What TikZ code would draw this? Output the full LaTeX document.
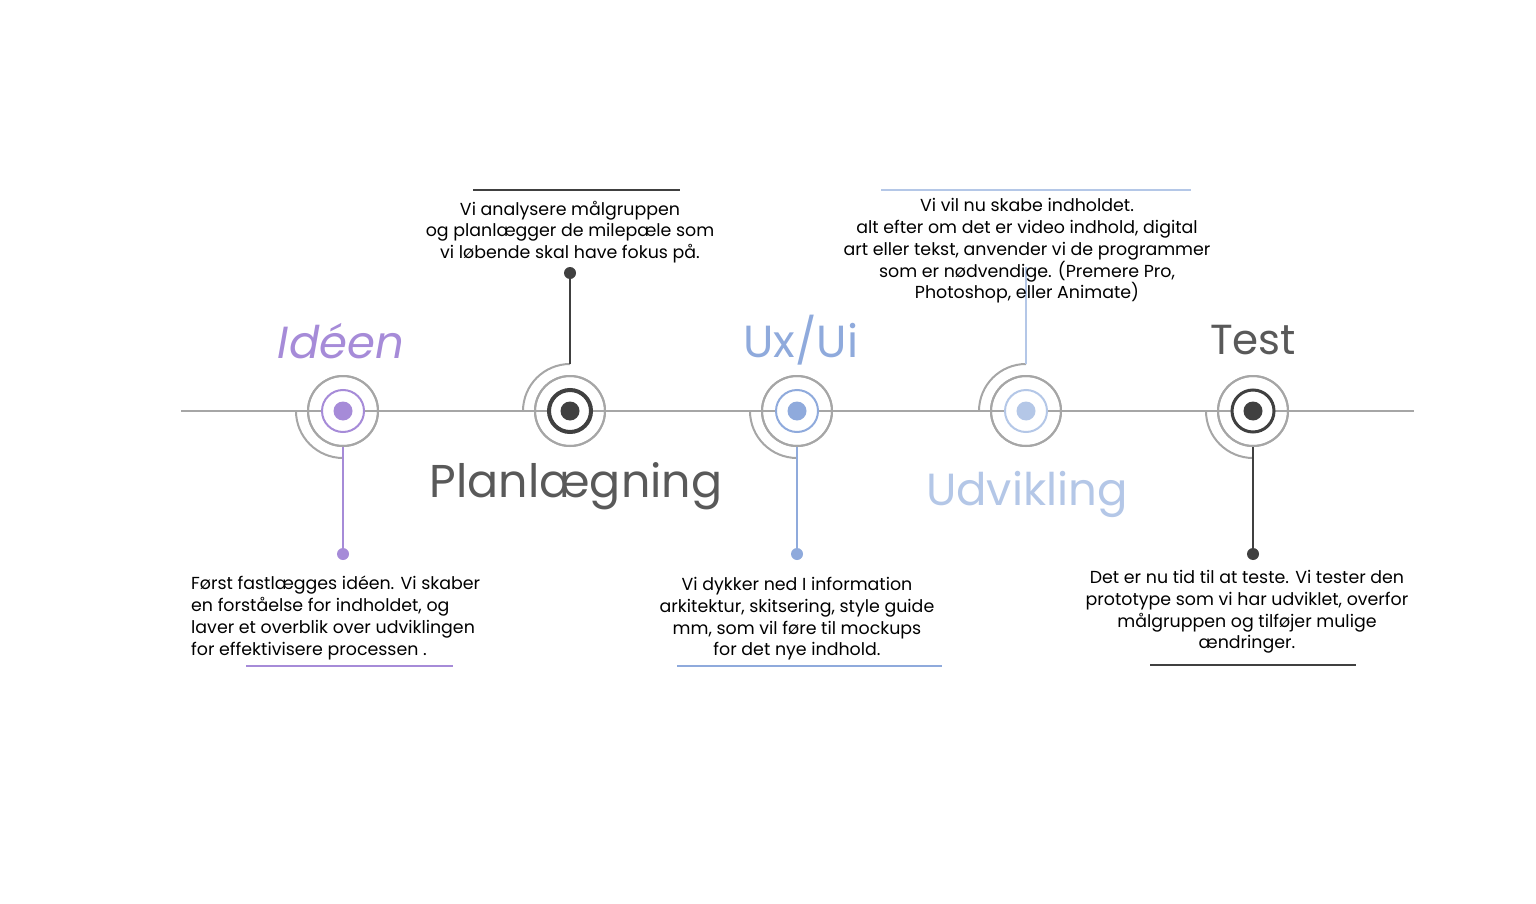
\documentclass[tikz,border=0pt]{standalone}
\usepackage{fontspec}
\setmainfont{Poppins}
\begin{document}
\begin{tikzpicture}[x=1pt,y=1pt]
\definecolor{cPurple}{HTML}{A68BD8}
\definecolor{cDark}{HTML}{404040}
\definecolor{cTitle}{HTML}{595959}
\definecolor{cBlue}{HTML}{8FAADC}
\definecolor{cLight}{HTML}{B4C7E7}
\definecolor{cGray}{HTML}{A6A6A6}
\tikzset{
  outerring/.style={circle, draw=cGray, line width=2pt, minimum size=70pt, inner sep=0pt, fill=white},
  innerring/.style={circle, draw=#1, line width=2pt, minimum size=42pt, inner sep=0pt},
  core/.style={circle, fill=#1, minimum size=19pt, inner sep=0pt},
  tipdot/.style={circle, fill=#1, minimum size=12pt, inner sep=0pt},
  arcline/.style={draw=cGray, line width=2pt},
  stem/.style={draw=#1, line width=2pt},
  rule/.style={draw=#1, line width=2.2pt},
  body/.style={inner sep=0pt, text=black, font=\fontsize{17.4}{21.7}\selectfont},
  title/.style={inner sep=0pt, font=\fontsize{45}{50}\selectfont},
}
\useasboundingbox (0,0) rectangle (1536,-904);
% timeline
\coordinate (tlL) at (181,-411);
\coordinate (tlR) at (1414,-411);
\draw[cGray, line width=2pt] (tlL) -- (tlR);
% markers
\node[outerring] (m1) at (343,-411) {};
\node[outerring] (m2) at (570,-411) {};
\node[outerring] (m3) at (797,-411) {};
\node[outerring] (m4) at (1026,-411) {};
\node[outerring] (m5) at (1253,-411) {};
% arcs
\draw[arcline] (m1.center) ++(-47,0) arc[start angle=180, end angle=270, radius=47pt] coordinate (a1);
\draw[arcline] (m2.center) ++(-47,0) arc[start angle=180, end angle=90, radius=47pt] coordinate (a2);
\draw[arcline] (m3.center) ++(-47,0) arc[start angle=180, end angle=270, radius=47pt] coordinate (a3);
\draw[arcline] (m4.center) ++(-47,0) arc[start angle=180, end angle=90, radius=47pt] coordinate (a4);
\draw[arcline] (m5.center) ++(-47,0) arc[start angle=180, end angle=270, radius=47pt] coordinate (a5);
% redraw outer rings over arcs and timeline
\node[outerring, fill=none] (o1) at (m1) {};
\node[outerring, fill=none] (o2) at (m2) {};
\node[outerring, fill=none] (o3) at (m3) {};
\node[outerring, fill=none] (o4) at (m4) {};
\node[outerring, fill=none] (o5) at (m5) {};
\draw[cGray, line width=2pt] (o1.west) -- (o1.east);
\draw[cGray, line width=2pt] (o2.west) -- (o2.east);
\draw[cGray, line width=2pt] (o3.west) -- (o3.east);
\draw[cGray, line width=2pt] (o4.west) -- (o4.east);
\draw[cGray, line width=2pt] (o5.west) -- (o5.east);
% inner rings
\node[innerring=cPurple, fill=white] (i1) at (m1) {};
\node[innerring=cDark, line width=4pt, fill=white] (i2) at (m2) {};
\node[innerring=cBlue, fill=white] (i3) at (m3) {};
\node[innerring=cLight, fill=white] (i4) at (m4) {};
\node[innerring=cDark, line width=3pt, fill=white] (i5) at (m5) {};
\node[core=cPurple] (c1) at (m1) {};
\node[core=cDark] (c2) at (m2) {};
\node[core=cBlue] (c3) at (m3) {};
\node[core=cLight] (c4) at (m4) {};
\node[core=cDark] (c5) at (m5) {};
% stems and tip dots
\node[tipdot=cPurple] (d1) at (343,-554) {};
\node[tipdot=cDark] (d2) at (570,-273) {};
\node[tipdot=cBlue] (d3) at (797,-554) {};
\coordinate (d4) at (1026,-267);
\node[tipdot=cDark] (d5) at (1253,-554) {};
\draw[stem=cPurple] (m1.south) -- (d1.center);
\draw[stem=cDark, line width=2.5pt] (d2.center) -- (a2);
\draw[stem=cBlue] (m3.south) -- (d3.center);
\draw[stem=cLight] (d4) -- (a4);
\draw[stem=cDark, line width=2.5pt] (m5.south) -- (d5.center);
% titles
\node[title, text=cPurple, font=\fontsize{45}{50}\selectfont\itshape] (t1) at (341,-341) {Idéen};
\node[title, text=cTitle, font=\fontsize{46}{50}\selectfont] (t2) at (576,-486) {Planlægning};
\node[title, text=cBlue] (t3) at (801,-340) {Ux/Ui};
\node[title, text=cLight] (t4) at (1027,-494) {Udvikling};
\node[title, text=cTitle, font=\fontsize{42}{50}\selectfont] (t5) at (1253,-340) {Test};
% body texts
\node[body, anchor=west, align=left] (b1) at (191,-618) {Først fastlægges idéen. Vi skaber\\en forståelse for indholdet, og\\laver et overblik over udviklingen\\for effektivisere processen .};
\node[body, align=center] (b2) at (570,-232) {Vi analysere målgruppen\\og planlægger de milepæle som\\vi løbende skal have fokus på.};
\node[body, align=center] (b3) at (797,-619) {Vi dykker ned I information\\arkitektur, skitsering, style guide\\mm, som vil føre til mockups\\for det nye indhold.};
\node[body, align=center] (b4) at (1027,-251) {Vi vil nu skabe indholdet.\\alt efter om det er video indhold, digital\\art eller tekst, anvender vi de programmer\\som er nødvendige. (Premere Pro,\\Photoshop, eller Animate)};
\node[body, align=center] (b5) at (1247,-612) {Det er nu tid til at teste. Vi tester den\\prototype som vi har udviklet, overfor\\målgruppen og tilføjer mulige\\ændringer.};
% rules
\draw[rule=cPurple] (246,-666) -- (453,-666);
\draw[rule=cDark] (473,-190) -- (680,-190);
\draw[rule=cBlue] (677,-666) -- (942,-666);
\draw[rule=cLight] (881,-190) -- (1191,-190);
\draw[rule=cDark] (1150,-665) -- (1356,-665);
\end{tikzpicture}
\end{document}
